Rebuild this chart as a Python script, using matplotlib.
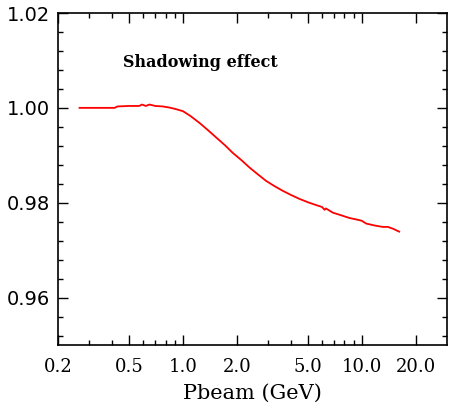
import matplotlib
matplotlib.use("Agg")
import matplotlib.pyplot as plt
from matplotlib.ticker import FixedLocator, FixedFormatter, MultipleLocator

# data
pbeam = [0.264, 0.415, 0.43, 0.50, 0.57, 0.59, 0.62, 0.65, 0.70, 0.77, 0.83, 0.90,
         1.00, 1.10, 1.24, 1.38, 1.54, 1.72, 1.90, 2.12, 2.36, 2.62, 2.92, 3.25,
         3.62, 4.04, 4.49, 5.00, 5.56, 6.00, 6.20, 6.30, 6.90, 7.60, 8.50, 9.50,
         10.0, 10.6, 11.8, 13.1, 14.0, 15.0, 16.2]
ratio = [1.0000, 1.0000, 1.0003, 1.0004, 1.0004, 1.0007, 1.0004, 1.0007, 1.0004,
         1.0003, 1.0001, 0.9998, 0.9993, 0.9983, 0.9968, 0.9953, 0.9937, 0.9921,
         0.9905, 0.9890, 0.9874, 0.9860, 0.9846, 0.9835, 0.9825, 0.9816, 0.9808,
         0.9801, 0.9795, 0.9791, 0.9785, 0.9788, 0.9779, 0.9774, 0.9768, 0.9764,
         0.9762, 0.9756, 0.9752, 0.9749, 0.9749, 0.9745, 0.9739]

xticks = [0.2, 0.5, 1.0, 2.0, 5.0, 10.0, 20.0]
xticklabels = ["0.2", "0.5", "1.0", "2.0", "5.0", "10.0", "20.0"]
xminor = [0.3, 0.4, 0.6, 0.7, 0.8, 0.9, 3, 4, 6, 7, 8, 9]
yticks = [0.96, 0.98, 1.00, 1.02]
yticklabels = ["0.96", "0.98", "1.00", "1.02"]

fig = plt.figure(figsize=(4.57, 4.15), dpi=100)
ax = fig.add_axes([58 / 457, 70 / 415, 389 / 457, 332 / 415])

ax.plot(pbeam, ratio, color="red", lw=1.3)

ax.set_xscale("log")
ax.set_xlim(0.2, 30)
ax.set_ylim(0.95, 1.02)

ax.xaxis.set_major_locator(FixedLocator(xticks))
ax.xaxis.set_major_formatter(FixedFormatter(xticklabels))
ax.xaxis.set_minor_locator(FixedLocator(xminor))
ax.xaxis.set_minor_formatter(FixedFormatter([""] * len(xminor)))
ax.yaxis.set_major_locator(FixedLocator(yticks))
ax.yaxis.set_major_formatter(FixedFormatter(yticklabels))
ax.yaxis.set_minor_locator(MultipleLocator(0.004))

ax.tick_params(which="both", direction="in", top=True, right=True, width=1.0)
ax.tick_params(which="major", length=7)
ax.tick_params(which="minor", length=3.5)
ax.tick_params(axis="y", labelsize=14, pad=6)
ax.tick_params(axis="x", labelsize=13, pad=9)
for lab in ax.get_xticklabels():
    lab.set_family("DejaVu Serif")
for lab in ax.get_yticklabels():
    lab.set_family("DejaVu Sans")
for s in ax.spines.values():
    s.set_linewidth(1.2)

ax.set_xlabel("Pbeam (GeV)", family="DejaVu Serif", fontsize=15, labelpad=6)
ax.text(0.167, 0.852, "Shadowing effect", transform=ax.transAxes,
        family="DejaVu Serif", fontsize=11.5, fontweight="bold",
        va="center", ha="left")

fig.savefig("out.png", dpi=100)
